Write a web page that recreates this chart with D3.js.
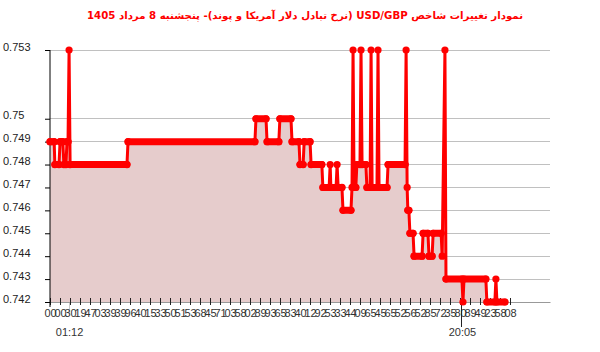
<!DOCTYPE html>
<html><head><meta charset="utf-8">
<script src="https://cdn.jsdelivr.net/npm/d3@7/dist/d3.min.js"></script>
<style>body{margin:0;background:#fff}svg{display:block}</style>
</head><body>
<svg id="c" width="600" height="352"></svg>
<script>
const titleText = "نمودار تغییرات شاخص USD/GBP (نرخ تبادل دلار آمریکا و پوند)- پنجشنبه  8 مرداد 1405";
const times = ["00:17","00:29","00:31","00:43","00:46","00:54","00:57","01:03","01:06","01:09","01:12","01:15",
"03:59","04:02","10:08","10:11","10:40","10:43","11:17","11:20","11:52","11:55","12:15","12:18","12:27","12:30",
"12:47","12:50","13:21","13:24","13:42","13:45","13:47","14:02","14:05","14:08","14:19","14:22","14:45","14:48",
"14:51","14:54","14:59","15:02","15:11","15:14","15:17","15:28","15:31","15:40","15:43","15:46","16:00","16:03",
"16:06","16:29","16:32","17:21","17:24","17:27","17:29","17:32","17:35","17:44","17:47","18:10","18:13","18:27",
"18:30","18:39","18:42","19:05","19:08","19:16","19:19","20:05","20:08","20:11","21:14","21:17","21:40","21:43",
"21:46","22:09"];
const values = [0.749,0.749,0.748,0.748,0.749,0.749,0.748,0.748,0.749,0.749,0.753,0.748,
0.748,0.749,0.749,0.75,0.75,0.749,0.749,0.75,0.75,0.749,0.749,0.748,0.748,0.749,
0.749,0.748,0.748,0.747,0.747,0.748,0.747,0.747,0.748,0.747,0.747,0.746,0.746,0.747,
0.753,0.747,0.747,0.748,0.748,0.753,0.748,0.748,0.747,0.747,0.753,0.747,0.747,0.753,
0.747,0.747,0.748,0.748,0.753,0.747,0.746,0.746,0.745,0.745,0.744,0.744,0.745,0.745,
0.744,0.744,0.745,0.745,0.744,0.753,0.743,0.743,0.742,0.743,0.743,0.742,0.742,0.743,
0.742,0.742];
const yTicks = [0.742,0.743,0.744,0.745,0.746,0.747,0.748,0.749,0.75,0.753];
const yDomain = [0.742, 0.753];
const xDomainTimes = ["00:17","24:19"];
const tickStepMin = 28.84;
const tickLabels = ["00","00","30","19","47","03","39","39","96","40","15","33","50","51","53","68","45","71","03","58",
"02","89","93","65","83","40","12","92","53","33","44","09","65","45","65","52","56","52","85","72",
"35","80","89","49","23","58","08"];
const majorTimes = ["01:12","20:05"];

const toMin = s => { const [h,m] = s.split(":").map(Number); return h*60+m; };
const data = times.map((t,i)=>({t:toMin(t), v:values[i]}));

const svg = d3.select("#c");
const L=50, R=550, T=50, B=302;
const x = d3.scaleLinear().domain(xDomainTimes.map(toMin)).range([L,R]);
const y = d3.scaleLinear().domain(yDomain).range([B,T]);
const font = "'Liberation Sans', Arial, sans-serif";

// title
svg.append("text").attr("x",305).attr("y",19).attr("text-anchor","middle")
  .attr("direction","rtl").attr("fill","#ff0000").attr("font-weight","bold")
  .attr("font-family","'DejaVu Sans', sans-serif").attr("font-size",10.2).text(titleText);

// grid
svg.append("g").selectAll("line").data(yTicks).join("line")
  .attr("x1",L).attr("x2",R).attr("y1",d=>y(d)).attr("y2",d=>y(d))
  .attr("stroke","#c0c0c0").attr("stroke-width",1).attr("shape-rendering","crispEdges");
svg.append("line").attr("x1",x(toMin(majorTimes[0]))).attr("x2",x(toMin(majorTimes[0])))
  .attr("y1",T).attr("y2",B+12).attr("stroke","#c8c8c8").attr("shape-rendering","crispEdges");

// area
svg.append("path").datum(data)
  .attr("d", d3.area().x(d=>x(d.t)).y0(y(yDomain[0])).y1(d=>y(d.v)))
  .attr("fill","#e6cccc");

// x axis
const tickVals = tickLabels.map((_,i)=>toMin(xDomainTimes[0]) + i*tickStepMin);
const xa = svg.append("g").attr("transform",`translate(0,${B})`)
  .call(d3.axisBottom(x).tickValues(tickVals).tickFormat((d,i)=>tickLabels[i]).tickSize(3).tickSizeOuter(0));
xa.select(".domain").attr("stroke","#999");
xa.selectAll(".tick line").attr("y1",-4).attr("y2",3).attr("stroke","#222");
xa.selectAll(".tick text").attr("y",7).attr("font-family",font).attr("font-size",11).attr("fill","#333");

// major labels
const mx = svg.append("g").attr("transform",`translate(0,${B})`)
  .call(d3.axisBottom(x).tickValues(majorTimes.map(toMin)).tickFormat((d,i)=>majorTimes[i]).tickSize(0));
mx.select(".domain").remove();
mx.selectAll(".tick text").attr("y",26).attr("font-family",font).attr("font-size",11).attr("fill","#333");
svg.append("line").attr("x1",x(toMin(majorTimes[1]))).attr("x2",x(toMin(majorTimes[1])))
  .attr("y1",B).attr("y2",B+25).attr("stroke","#222").attr("shape-rendering","crispEdges");

// y axis
const ya = svg.append("g").attr("transform",`translate(${L},0)`)
  .call(d3.axisLeft(y).tickValues(yTicks).tickFormat(d3.format("")).tickSize(5).tickSizeOuter(0));
ya.select(".domain").attr("stroke","#000").attr("d",`M0,${T}V${B+5}`);
ya.selectAll(".tick line").attr("stroke","#000");
ya.selectAll(".tick text").attr("x",-47).attr("dy",0).attr("text-anchor","start")
  .attr("font-family",font).attr("font-size",11).attr("fill","#222");

// line
const red = "#ff0000";
svg.append("path").datum(data)
  .attr("d", d3.line().x(d=>x(d.t)).y(d=>y(d.v)))
  .attr("fill","none").attr("stroke",red).attr("stroke-width",3).attr("stroke-linejoin","round");
// flat runs (dense samples)
const runs = d3.pairs(data).filter(([a,b])=>a.v===b.v);
svg.append("g").selectAll("line").data(runs).join("line")
  .attr("x1",d=>x(d[0].t)).attr("x2",d=>x(d[1].t)).attr("y1",d=>y(d[0].v)).attr("y2",d=>y(d[1].v))
  .attr("stroke",red).attr("stroke-width",7).attr("stroke-linecap","round");
svg.append("g").selectAll("circle").data(data).join("circle")
  .attr("cx",d=>x(d.t)).attr("cy",d=>y(d.v)).attr("r",3.6).attr("fill",red);
</script>
</body></html>
